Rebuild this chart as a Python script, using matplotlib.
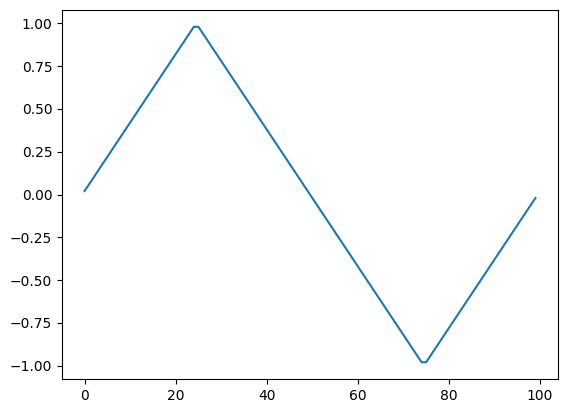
import matplotlib
matplotlib.use("Agg")
import matplotlib.pyplot as plt

x_values = list(range(100))
y_values = [
    0.02, 0.06, 0.10, 0.14, 0.18, 0.22, 0.26, 0.30, 0.34, 0.38,
    0.42, 0.46, 0.50, 0.54, 0.58, 0.62, 0.66, 0.70, 0.74, 0.78,
    0.82, 0.86, 0.90, 0.94, 0.98, 0.98, 0.94, 0.90, 0.86, 0.82,
    0.78, 0.74, 0.70, 0.66, 0.62, 0.58, 0.54, 0.50, 0.46, 0.42,
    0.38, 0.34, 0.30, 0.26, 0.22, 0.18, 0.14, 0.10, 0.06, 0.02,
    -0.02, -0.06, -0.10, -0.14, -0.18, -0.22, -0.26, -0.30, -0.34, -0.38,
    -0.42, -0.46, -0.50, -0.54, -0.58, -0.62, -0.66, -0.70, -0.74, -0.78,
    -0.82, -0.86, -0.90, -0.94, -0.98, -0.98, -0.94, -0.90, -0.86, -0.82,
    -0.78, -0.74, -0.70, -0.66, -0.62, -0.58, -0.54, -0.50, -0.46, -0.42,
    -0.38, -0.34, -0.30, -0.26, -0.22, -0.18, -0.14, -0.10, -0.06, -0.02,
]

fig, ax = plt.subplots(figsize=(5.68, 4.13), dpi=100)
ax.plot(x_values, y_values, color="#1f78ab")
fig.subplots_adjust(left=62/568, right=558/568, bottom=1-379/413, top=1-10/413)
fig.savefig("out.png", dpi=100)
